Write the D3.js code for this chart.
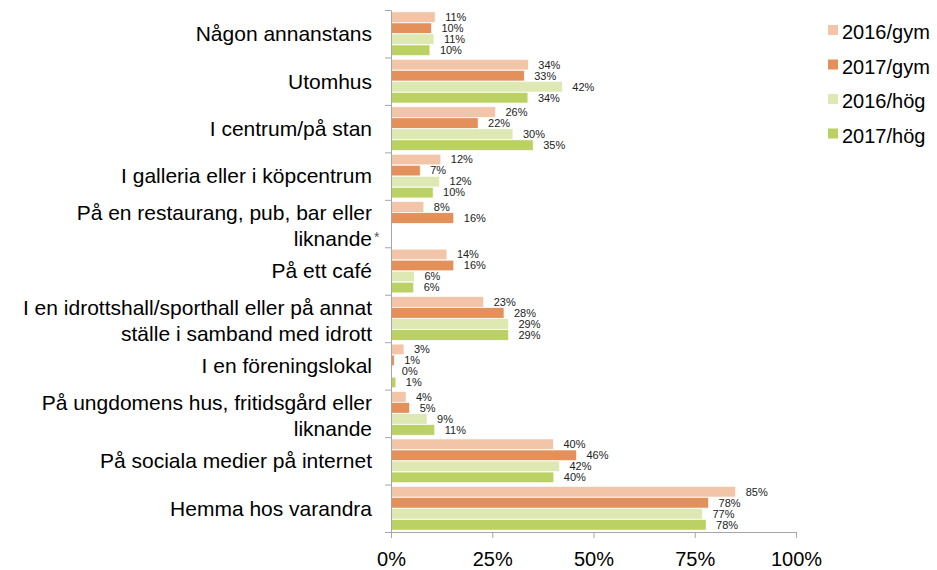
<!DOCTYPE html>
<html lang="sv">
<head>
<meta charset="UTF-8">
<title>Var träffas ungdomar</title>
<script src="https://d3js.org/d3.v7.min.js"></script>
<style>
    body { margin: 0; background: #fff; font-family: "Liberation Sans", Arial, sans-serif; }
    #chart { width: 937px; height: 570px; }
</style>
</head>
<body>
<div id="chart"></div>
<script>
    // categories top to bottom, "\n" marks a line break, "*" a footnote mark
    const categories = [
        "Någon annanstans",
        "Utomhus",
        "I centrum/på stan",
        "I galleria eller i köpcentrum",
        "På en restaurang, pub, bar eller\nliknande*",
        "På ett café",
        "I en idrottshall/sporthall eller på annat\nställe i samband med idrott",
        "I en föreningslokal",
        "På ungdomens hus, fritidsgård eller\nliknande",
        "På sociala medier på internet",
        "Hemma hos varandra"
    ];
    const seriesNames = ["2016/gym", "2017/gym", "2016/hög", "2017/hög"];
    const seriesColors = ["#f2c5a9", "#e4905b", "#dde8b3", "#bcd163"];

    const gym2016 = [10.9, 33.9, 25.8, 12.3, 8.1, 13.8, 22.9, 3.2, 3.7, 40.1, 85.1];
    const gym2017 = [10.0, 32.9, 21.5, 7.2, 15.5, 15.5, 27.9, 0.8, 4.6, 45.8, 78.4];
    const hog2016 = [10.6, 42.3, 30.1, 12.0, null, 5.8, 29.0, 0.2, 8.9, 41.6, 76.9];
    const hog2017 = [9.6, 33.8, 35.1, 10.4, null, 5.6, 29.0, 1.2, 10.8, 40.2, 77.8];

    const xTicks = [0, 25, 50, 75, 100];

    const allSeries = [gym2016, gym2017, hog2016, hog2017];

    const width = 937, height = 570;
    const mLeft = 391, mRight = 796, mTop = 10, mBottom = 532;

    const svg = d3.select("#chart").append("svg")
        .attr("width", width)
        .attr("height", height);

    const x = d3.scaleLinear().domain([0, 100]).range([mLeft, mRight]);

    const y0 = d3.scaleBand()
        .domain(categories)
        .range([mTop, mBottom])
        .paddingInner(0.08)
        .paddingOuter(0.04);

    const y1 = d3.scaleBand()
        .domain(seriesNames)
        .range([0, y0.bandwidth()])
        .paddingInner(0.04);

    // bars
    categories.forEach((cat, i) => {
        const g = svg.append("g").attr("transform", `translate(0,${y0(cat)})`);
        seriesNames.forEach((s, j) => {
            const v = allSeries[j][i];
            if (v === null) return;
            g.append("rect")
                .attr("x", x(0))
                .attr("y", y1(s))
                .attr("width", x(v) - x(0))
                .attr("height", y1.bandwidth())
                .attr("fill", seriesColors[j])
                .attr("stroke", "#fff")
                .attr("stroke-width", 0.6);
            g.append("text")
                .attr("x", x(v) + 10)
                .attr("y", y1(s) + y1.bandwidth() / 2)
                .attr("dy", "0.35em")
                .attr("font-size", 11)
                .attr("fill", "#222")
                .text(Math.round(v) + "%");
        });
    });

    // y axis: line with ticks on category boundaries
    const step = y0.step();
    const yStart = y0.range()[0];
    const boundaries = d3.range(categories.length + 1).map(k => yStart + k * step);
    const yLin = d3.scaleLinear().domain([mTop, mBottom]).range([mTop, mBottom]);
    svg.append("g")
        .attr("transform", `translate(${mLeft},0)`)
        .call(d3.axisLeft(yLin).tickValues(boundaries).tickSize(6).tickSizeOuter(0).tickFormat(""))
        .call(g => g.selectAll("line, path").attr("stroke", "#a6a6a6"));

    // category labels
    const lineH = 26;
    categories.forEach(cat => {
        const lines = cat.split("\n");
        const cy = y0(cat) + y0.bandwidth() / 2;
        const startY = lines.length > 1 ? cy - (lines.length - 1) * lineH / 2 + 2 : cy;
        const t = svg.append("text")
            .attr("text-anchor", "end")
            .attr("font-size", 21)
            .attr("fill", "#000");
        lines.forEach((ln, k) => {
            const star = ln.endsWith("*");
            const ly = startY + k * lineH;
            t.append("tspan")
                .attr("x", 372)
                .attr("y", ly)
                .attr("dy", "0.35em")
                .text(star ? ln.slice(0, -1) : ln);
            if (star) {
                svg.append("text")
                    .attr("x", 374)
                    .attr("y", ly + 3)
                    .attr("font-size", 14)
                    .attr("fill", "#595959")
                    .text("*");
            }
        });
    });

    // x axis
    svg.append("g")
        .attr("transform", `translate(0,${mBottom})`)
        .call(d3.axisBottom(x).tickValues(xTicks).tickSize(6).tickSizeOuter(0).tickFormat(d => d + "%"))
        .call(g => g.selectAll("line, path").attr("stroke", "#a6a6a6"))
        .call(g => g.selectAll("text")
            .attr("font-size", 20)
            .attr("font-family", "'Liberation Sans', Arial, sans-serif")
            .attr("fill", "#000")
            .attr("dy", "1.25em"));

    // legend
    const legend = svg.append("g");
    seriesNames.forEach((s, j) => {
        const cy = 30 + j * 34.5;
        legend.append("rect")
            .attr("x", 828).attr("y", cy - 5)
            .attr("width", 10).attr("height", 10)
            .attr("fill", seriesColors[j]);
        legend.append("text")
            .attr("x", 842).attr("y", cy + 2)
            .attr("dy", "0.35em")
            .attr("font-size", 20)
            .attr("fill", "#000")
            .text(s);
    });
</script>
</body>
</html>
